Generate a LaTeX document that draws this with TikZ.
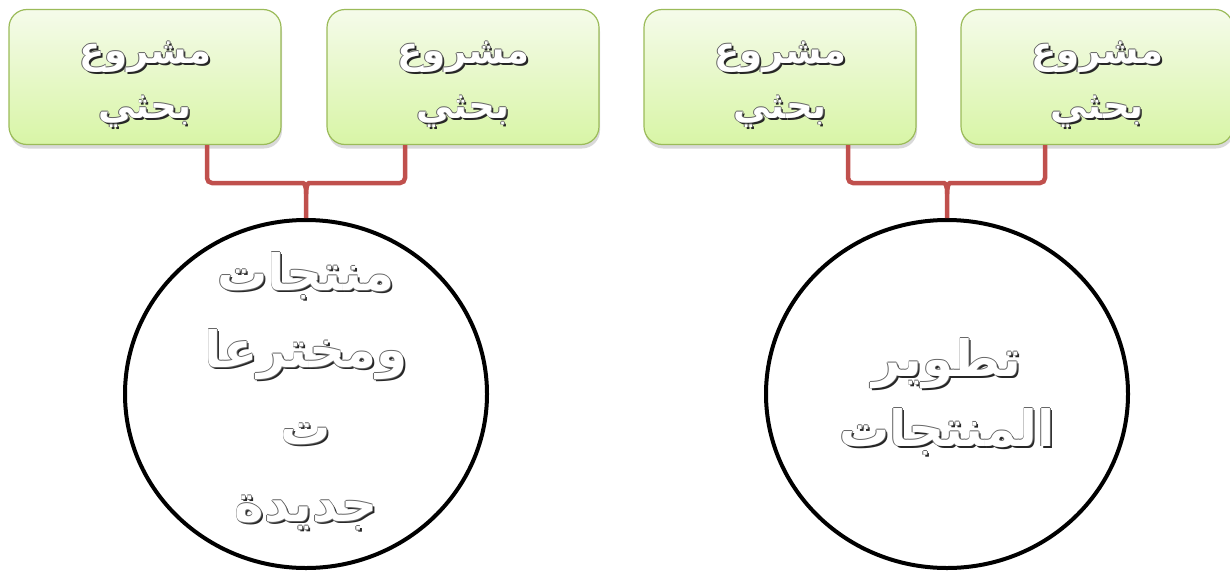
\documentclass[tikz,border=0pt]{standalone}
\usepackage{fontspec}
\TeXXeTstate=1
\newfontfamily\arabicfont[Script=Arabic]{DejaVu Sans}
\usetikzlibrary{shadows,shapes.geometric}
\newcommand\otx[1]{{\setbox0=\hbox{\arabicfont\bfseries\beginR#1\endR}%
\hbox{\rlap{\kern2pt\lower2pt\hbox{\color{black!85}\copy0}}%
\rlap{\kern0.7pt\hbox{\color{black!60}\copy0}}%
\rlap{\kern-0.7pt\hbox{\color{black!60}\copy0}}%
\rlap{\raise0.7pt\hbox{\color{black!60}\copy0}}%
\rlap{\lower0.7pt\hbox{\color{black!60}\copy0}}%
\hbox{\color{white}\copy0}}}}
\definecolor{boxtop}{HTML}{F5FBEA}
\definecolor{boxbot}{HTML}{D8F5A6}
\definecolor{boxline}{HTML}{9BBB59}
\definecolor{bracecol}{HTML}{C0504D}
\tikzset{
  projbox/.style={draw=boxline, line width=1.2pt, rounded corners=18pt,
    top color=boxtop, bottom color=boxbot, minimum width=272pt, minimum height=135pt,
    drop shadow={opacity=0.3, shadow xshift=1pt, shadow yshift=-4pt},
    inner sep=0pt},
  boxtext/.style={align=center, font=\fontsize{37}{55}\selectfont, inner sep=0pt},
  circtext/.style={align=center, inner sep=0pt},
  bigcirc/.style={draw=black, line width=4pt, ellipse, minimum width=362pt, minimum height=348pt,
    fill=white, inner sep=0pt},
  brace/.style={draw=bracecol, line width=4.5pt}
}
\begin{document}
\begin{tikzpicture}[x=1pt,y=-1pt]
\useasboundingbox (0,0) rectangle (1230,570);
\node[projbox] (b1) at (145,77) {};
\node[projbox] (b2) at (463,77) {};
\node[projbox] (b3) at (780,77) {};
\node[projbox] (b4) at (1097,77) {};
\foreach \b in {b1,b2,b3,b4}
  \node[boxtext] (\b t) at ([yshift=-8pt]\b.center) {\otx{مشروع}\\\otx{بحثي}};
\node[bigcirc] (c1) at (306,394) {};
\node[bigcirc] (c2) at (947,394) {};
\node[circtext, font=\fontsize{50}{77}\selectfont] (c1t) at (306,392)
  {\otx{منتجات}\\\otx{ومخترعا}\\\otx{ت}\\\otx{جديدة}};
\node[circtext, font=\fontsize{50}{70}\selectfont] (c2t) at (947,397)
  {\otx{تطوير}\\\otx{المنتجات}};
% braces left
\draw[brace, rounded corners=5pt] ([xshift=62pt]b1.south) -- (207,183) -- (298,183)
  .. controls (304,183) and (306,186) .. (306,194) -- (c1.north);
\draw[brace, rounded corners=5pt] ([xshift=-58pt]b2.south) -- (405,183) -- (314,183)
  .. controls (308,183) and (306,186) .. (306,194);
% braces right
\draw[brace, rounded corners=5pt] ([xshift=68pt]b3.south) -- (848,183) -- (939,183)
  .. controls (945,183) and (947,186) .. (947,194) -- (c2.north);
\draw[brace, rounded corners=5pt] ([xshift=-52pt]b4.south) -- (1045,183) -- (955,183)
  .. controls (949,183) and (947,186) .. (947,194);
\end{tikzpicture}
\end{document}
